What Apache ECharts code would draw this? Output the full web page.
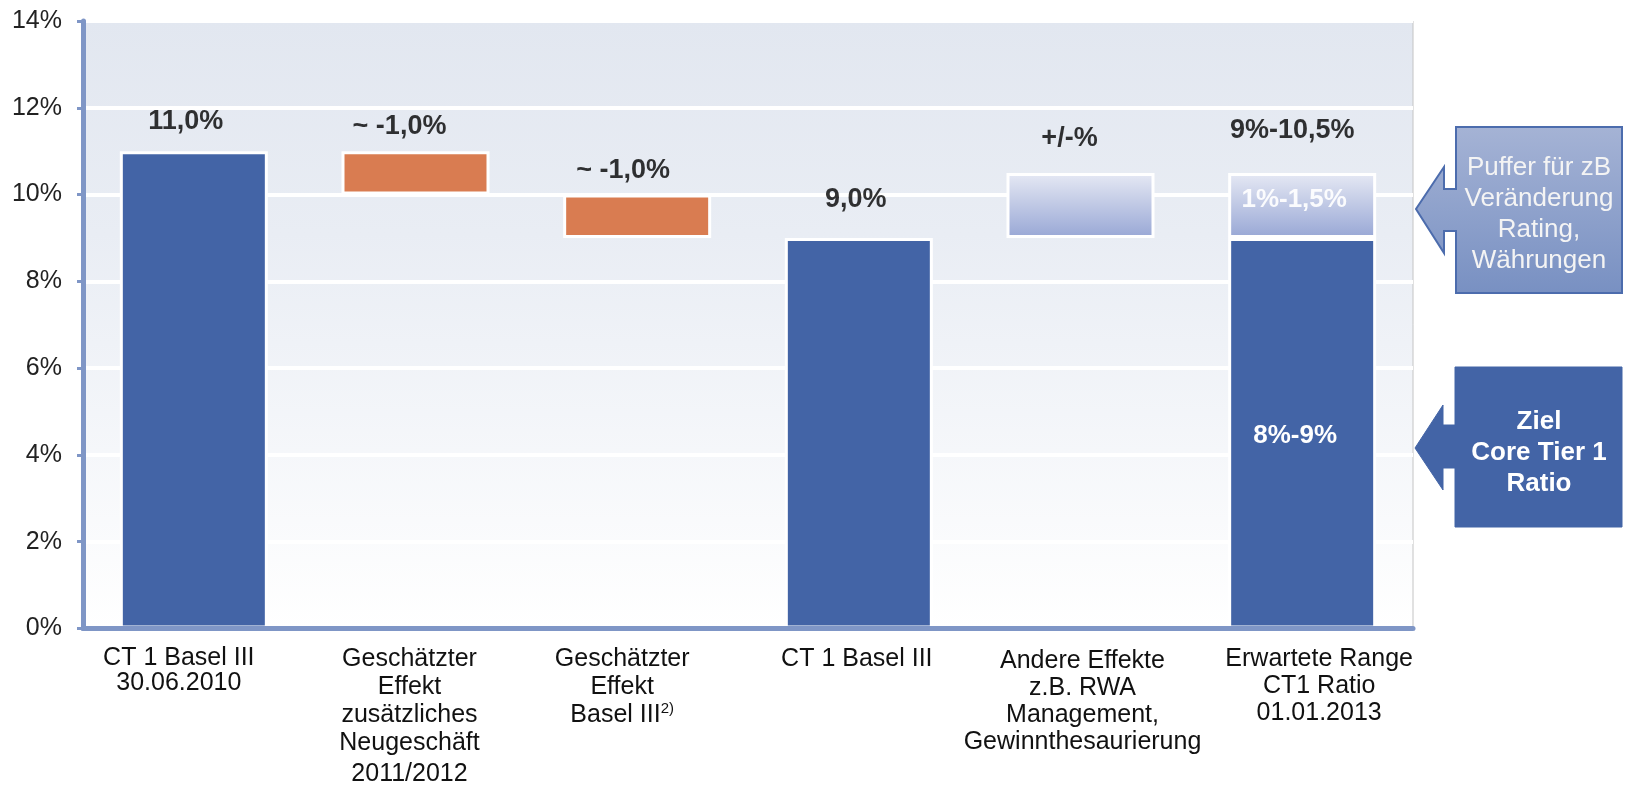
<!DOCTYPE html>
<html>
<head>
<meta charset="utf-8">
<style>
  html, body { margin: 0; padding: 0; background: #fff; }
  #chart { width: 1625px; height: 787px; }
</style>
<script src="https://cdn.jsdelivr.net/npm/echarts@6/dist/echarts.min.js"></script>
</head>
<body>
<div id="chart"></div>
<script>
// Kategorien (x-Achse)
const categories = [
  'CT 1 Basel III\n30.06.2010',
  'Geschätzter\nEffekt\nzusätzliches\nNeugeschäft\n{gap|2011/2012}',
  'Geschätzter\nEffekt\nBasel III{sup|2)}',
  'CT 1 Basel III',
  'Andere Effekte\nz.B. RWA\nManagement,\nGewinnthesaurierung',
  'Erwartete Range\nCT1 Ratio\n01.01.2013'
];

// Wasserfall: unsichtbarer Sockel + sichtbare Segmente
const baseValues   = [0, 10, 9, 0, 9, 0];
const blueValues   = [11, '-', '-', 9, '-', 9];
const orangeValues = ['-', 1, 1, '-', '-', '-'];
const bufferValues = ['-', '-', '-', '-', 1.5, 1.5];

const topLabels = ['11,0%', '~ -1,0%', '~ -1,0%', '9,0%', '+/-%', '9%-10,5%'];
const yTicks = { min: 0, max: 14, interval: 2 };

// Abstand / Versatz der Beschriftungen über den Balken
const labelDist = [16, 11, 11, 25, 21, 29];
const labelDx = [-8, -16, -14, -3, -11, -10];

// Versatz der Kategorienbeschriftungen
const catLabelStyle = [
  { padding: [0, 30, 0, 0], lineHeight: 25 },
  { padding: [0, 12, 0, 0], lineHeight: 28 },
  { padding: [0, 30, 0, 0], lineHeight: 28 },
  { padding: [0, 4, 0, 0] },
  { padding: [2, 0, 0, 4] },
  { padding: [0, 0, 0, 34] }
];

const num = v => (v === '-' ? 0 : v);
const totals = baseValues.map((b, i) =>
  b + num(blueValues[i]) + num(orangeValues[i]) + num(bufferValues[i]));

const FONT = '"Liberation Sans", Arial, sans-serif';
const BLUE = '#4364a6';
const ORANGE = '#d97c51';
const AXIS = '#7f96c6';

const bufferGradient = new echarts.graphic.LinearGradient(0, 0, 0, 1, [
  { offset: 0, color: '#e6e9f4' },
  { offset: 1, color: '#98a7d5' }
]);

const chart = echarts.init(document.getElementById('chart'));

chart.setOption({
  animation: false,
  textStyle: { fontFamily: FONT },
  grid: {
    left: 83, right: 212, top: 21, bottom: 158,
    show: true,
    borderColor: '#c4c4c4',
    borderWidth: 1,
    backgroundColor: new echarts.graphic.LinearGradient(0, 0, 0, 1, [
      { offset: 0, color: '#e2e7f0' },
      { offset: 0.35, color: '#e9edf4' },
      { offset: 1, color: '#ffffff' }
    ])
  },
  xAxis: {
    type: 'category',
    data: categories.map((c, i) => ({ value: c, textStyle: catLabelStyle[i] })),
    z: 10,
    axisLine: { lineStyle: { color: AXIS, width: 5 } },
    axisTick: { show: false },
    axisLabel: {
      interval: 0,
      margin: 17,
      fontSize: 25,
      lineHeight: 27,
      color: '#111',
      fontFamily: FONT,
      rich: {
        gap: { fontSize: 25, lineHeight: 28, padding: [6, 0, 0, 0], color: '#111', fontFamily: FONT },
        sup: { fontSize: 15, lineHeight: 28, verticalAlign: 'top', color: '#111', fontFamily: FONT }
      }
    }
  },
  yAxis: {
    type: 'value',
    min: yTicks.min,
    max: yTicks.max,
    interval: yTicks.interval,
    axisLine: { show: true, lineStyle: { color: AXIS, width: 5 } },
    axisTick: { show: true, length: 6, lineStyle: { color: AXIS, width: 3 } },
    axisLabel: {
      formatter: '{value}%',
      fontSize: 25,
      color: '#222',
      margin: 21,
      fontFamily: FONT
    },
    splitLine: { show: true, lineStyle: { color: '#ffffff', width: 4 } }
  },
  series: [
    {
      name: 'Sockel',
      type: 'bar',
      stack: 'wf',
      barWidth: 148,
      silent: true,
      itemStyle: { color: 'transparent', borderWidth: 0 },
      data: baseValues
    },
    {
      name: 'CT1',
      type: 'bar',
      stack: 'wf',
      barWidth: 148,
      itemStyle: { color: BLUE, borderColor: '#ffffff', borderWidth: 3 },
      data: blueValues.map((v, i) => i === 5 ? {
        value: v,
        label: {
          show: true, position: 'inside', formatter: '8%-9%',
          color: '#ffffff', fontSize: 26, fontWeight: 'bold', offset: [-7, 3]
        }
      } : v)
    },
    {
      name: 'Effekt',
      type: 'bar',
      stack: 'wf',
      barWidth: 148,
      itemStyle: { color: ORANGE, borderColor: '#ffffff', borderWidth: 3 },
      data: orangeValues
    },
    {
      name: 'Puffer',
      type: 'bar',
      stack: 'wf',
      barWidth: 148,
      itemStyle: { color: bufferGradient, borderColor: '#ffffff', borderWidth: 3 },
      data: bufferValues.map((v, i) => i === 5 ? {
        value: v,
        label: {
          show: true, position: 'inside', formatter: '1%-1,5%',
          color: 'rgba(255,255,255,0.92)', fontSize: 26, fontWeight: 'bold', offset: [-8, -6]
        }
      } : v)
    },
    {
      name: 'Werte',
      type: 'scatter',
      symbolSize: 0,
      silent: true,
      z: 5,
      data: totals.map((v, i) => ({
        value: v,
        label: {
          show: true,
          position: 'top',
          distance: labelDist[i],
          offset: [labelDx[i], 0],
          formatter: topLabels[i],
          color: '#000',
          fontSize: 27,
          fontWeight: 'bold',
          fontFamily: FONT
        }
      }))
    }
  ],
  graphic: [
    {
      type: 'polygon',
      shape: {
        points: [[1456, 127], [1622, 127], [1622, 293], [1456, 293], [1456, 231], [1444, 231],
                 [1444, 253], [1416, 209], [1444, 167], [1444, 189], [1456, 189]]
      },
      style: {
        fill: new echarts.graphic.LinearGradient(0, 0, 0, 1, [
          { offset: 0, color: '#a5b3d5' },
          { offset: 1, color: '#7890c2' }
        ]),
        stroke: '#4c6cad',
        lineWidth: 2
      }
    },
    {
      type: 'text',
      x: 1539, y: 214,
      style: {
        text: 'Puffer für zB\nVeränderung\nRating,\nWährungen',
        fill: '#f4f4f4',
        font: '26px ' + FONT,
        lineHeight: 31,
        align: 'center',
        verticalAlign: 'middle'
      }
    },
    {
      type: 'polygon',
      shape: {
        points: [[1455, 367], [1622, 367], [1622, 527], [1455, 527], [1455, 468], [1443, 468],
                 [1443, 490], [1415, 448], [1443, 405], [1443, 425], [1455, 425]]
      },
      style: { fill: BLUE, stroke: BLUE, lineWidth: 1 }
    },
    {
      type: 'text',
      x: 1539, y: 453,
      style: {
        text: 'Ziel\nCore Tier 1\nRatio',
        fill: '#ffffff',
        font: 'bold 26px ' + FONT,
        lineHeight: 31,
        align: 'center',
        verticalAlign: 'middle'
      }
    }
  ]
});
</script>
</body>
</html>
